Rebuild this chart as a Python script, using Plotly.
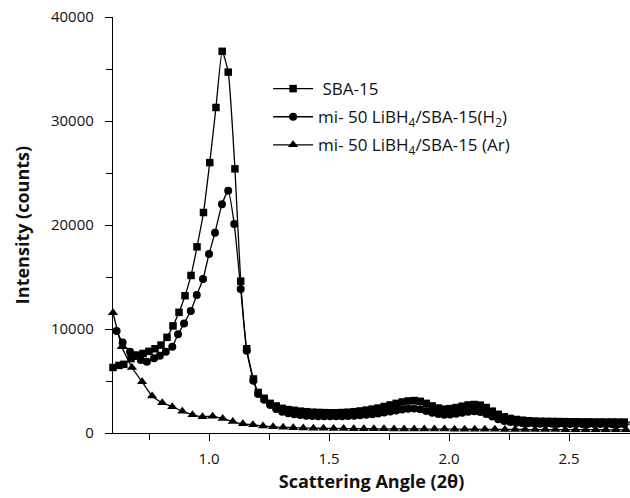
import plotly.graph_objects as go

# ---------------- data ----------------
sba_x = [0.600, 0.625, 0.645, 0.675, 0.700, 0.725, 0.750, 0.775, 0.800, 0.825,
         0.850, 0.875, 0.900, 0.925, 0.950, 0.977, 1.003, 1.029, 1.055, 1.080,
         1.108, 1.132, 1.157, 1.185, 1.205, 1.230, 1.255, 1.280, 1.305, 1.330,
         1.355, 1.380, 1.405, 1.430, 1.455, 1.480, 1.505, 1.530, 1.555, 1.580,
         1.605, 1.630, 1.655, 1.680, 1.705, 1.730, 1.755, 1.780, 1.805, 1.830,
         1.855, 1.880, 1.905, 1.930, 1.955, 1.980, 2.005, 2.030, 2.055, 2.080,
         2.105, 2.130, 2.155, 2.180, 2.205, 2.230, 2.255, 2.280, 2.305, 2.330,
         2.355, 2.380, 2.405, 2.430, 2.455, 2.480, 2.505, 2.530, 2.555, 2.580,
         2.605, 2.630, 2.655, 2.680, 2.705, 2.730, 2.755]
sba_y = [6300, 6500, 6600, 7150, 7500, 7650, 7850, 8100, 8450, 9200,
         10300, 11600, 13200, 15150, 17900, 21200, 26000, 31300, 36700, 34700,
         25400, 14600, 8100, 5200, 3900, 3340, 2850, 2600, 2370, 2250,
         2180, 2100, 2050, 2000, 1980, 1960, 1950, 1950, 1970, 2000,
         2050, 2120, 2200, 2300, 2400, 2550, 2700, 2850, 2980, 3080,
         3120, 3050, 2850, 2600, 2400, 2300, 2350, 2450, 2580, 2700,
         2740, 2680, 2450, 2100, 1800, 1560, 1400, 1300, 1230, 1180,
         1150, 1130, 1120, 1110, 1100, 1090, 1080, 1080, 1070, 1070,
         1060, 1060, 1050, 1060, 1050, 1050, 1050]

h2_x = [0.615, 0.640, 0.671, 0.693, 0.716, 0.741, 0.771, 0.795, 0.820, 0.847,
        0.871, 0.896, 0.924, 0.949, 0.975, 1.000, 1.025, 1.054, 1.080, 1.105,
        1.132, 1.157, 1.185, 1.205, 1.230, 1.255, 1.280, 1.305, 1.330, 1.355,
        1.380, 1.405, 1.430, 1.455, 1.480, 1.505, 1.530, 1.555, 1.580, 1.605,
        1.630, 1.655, 1.680, 1.705, 1.730, 1.755, 1.780, 1.805, 1.830, 1.855,
        1.880, 1.905, 1.930, 1.955, 1.980, 2.005, 2.030, 2.055, 2.080, 2.105,
        2.130, 2.155, 2.180, 2.205, 2.230, 2.255, 2.280, 2.305, 2.330, 2.355,
        2.380, 2.405, 2.430, 2.455, 2.480, 2.505, 2.530, 2.555, 2.580, 2.605,
        2.630, 2.655, 2.680, 2.705, 2.730, 2.755]
h2_y = [9800, 8700, 7820, 7400, 7020, 6860, 7180, 7430, 7820, 8300,
        9490, 10540, 11730, 13270, 14810, 17210, 19260, 22000, 23300, 20100,
        13850, 7910, 5030, 3750, 3200, 2700, 2300, 2050, 1900, 1800,
        1720, 1670, 1640, 1620, 1600, 1600, 1600, 1610, 1630, 1660,
        1700, 1750, 1800, 1870, 1960, 2060, 2160, 2250, 2320, 2350,
        2280, 2120, 1950, 1820, 1760, 1780, 1850, 1950, 2050, 2080,
        2010, 1830, 1580, 1330, 1160, 1060, 990, 950, 930, 910,
        900, 890, 890, 880, 880, 870, 870, 870, 860, 860,
        860, 850, 850, 850, 850, 850]

ar_x = [0.600, 0.637, 0.679, 0.721, 0.763, 0.805, 0.847, 0.889, 0.931, 0.973,
        1.015, 1.057, 1.099, 1.141, 1.183, 1.225, 1.267, 1.309, 1.351, 1.393,
        1.435, 1.477, 1.519, 1.561, 1.603, 1.645, 1.687, 1.729, 1.771, 1.813,
        1.855, 1.897, 1.939, 1.981, 2.023, 2.065, 2.107, 2.149, 2.191, 2.233,
        2.275, 2.317, 2.359, 2.401, 2.443, 2.485, 2.527, 2.569, 2.611, 2.653,
        2.695, 2.737]
ar_y = [11570, 8300, 6300, 4930, 3560, 2910, 2530, 2100, 1750, 1570,
        1600, 1400, 1100, 880, 800, 680, 600, 550, 510, 480,
        460, 450, 440, 430, 420, 410, 405, 400, 395, 390,
        390, 385, 380, 375, 370, 365, 360, 355, 350, 345,
        340, 335, 330, 330, 325, 320, 320, 315, 315, 310,
        310, 310]

names = [" SBA-15",
         "mi- 50 LiBH<sub>4</sub>/SBA-15(H<sub>2</sub>)",
         "mi- 50 LiBH<sub>4</sub>/SBA-15 (Ar)"]

# ---------------- figure ----------------
FONT = "Open Sans"
fig = go.Figure()

series = [(sba_x, sba_y, "square", 7.5),
          (h2_x, h2_y, "circle", 8),
          (ar_x, ar_y, "triangle-up", 9)]
for i, ((xs, ys, sym, sz), nm) in enumerate(zip(series, names)):
    fig.add_trace(go.Scatter(
        x=xs, y=ys, mode="lines+markers", name=nm, legendgroup=f"g{i}",
        line=dict(color="black", width=1.3, shape="spline", smoothing=0.5),
        marker=dict(symbol=sym, size=sz, color="black"),
        cliponaxis=False,
    ))

fig.update_layout(
    width=630, height=498,
    margin=dict(l=113, r=0, t=17, b=65),
    paper_bgcolor="white", plot_bgcolor="white",
    font=dict(family=FONT, size=14, color="#111"),
    showlegend=True,
    legend=dict(x=0.30, y=0.87, xanchor="left", yanchor="top",
                bgcolor="rgba(0,0,0,0)", font=dict(size=17, family=FONT),
                itemwidth=40, tracegroupgap=3),
)
fig.update_xaxes(
    range=[0.6, 2.754], showgrid=False, zeroline=False,
    showline=True, linecolor="black", linewidth=1.3,
    tickmode="array", tickvals=[1.0, 1.5, 2.0, 2.5],
    ticktext=["1.0", "1.5", "2.0", "2.5"],
    ticks="outside", ticklen=7, tickwidth=1.3, tickcolor="black",
    minor=dict(tickvals=[0.75, 1.25, 1.75, 2.25], ticks="outside",
               ticklen=6, tickwidth=1.3, tickcolor="black"),
    tickfont=dict(size=15, family=FONT),
    ticklabelstandoff=5,
    title=dict(text="<b>Scattering Angle (2θ)</b>", font=dict(size=18, family=FONT),
               standoff=8),
)
fig.update_yaxes(
    range=[0, 40000], showgrid=False, zeroline=False,
    showline=True, linecolor="black", linewidth=1.3,
    tickmode="array", tickvals=[0, 10000, 20000, 30000, 40000],
    ticktext=["0", "10000", "20000", "30000", "40000"],
    ticks="outside", ticklen=7, tickwidth=1.3, tickcolor="black",
    minor=dict(tickvals=[5000, 15000, 25000, 35000], ticks="outside",
               ticklen=6, tickwidth=1.3, tickcolor="black"),
    tickfont=dict(size=15, family=FONT),
    ticklabelstandoff=8,
    title=dict(text="<b>Intensity (counts)</b>", font=dict(size=18, family=FONT),
               standoff=16),
)

fig.write_html("out.html")
